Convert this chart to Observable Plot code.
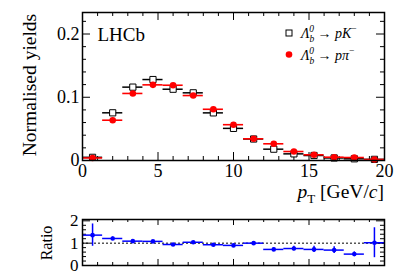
<!DOCTYPE html>
<html><head><meta charset="utf-8">
<script src="https://cdn.jsdelivr.net/npm/d3@7"></script>
<script src="https://cdn.jsdelivr.net/npm/@observablehq/plot@0.6"></script>
<style>
body{margin:0;background:#fff;}
#c{position:relative;width:407px;height:276px;overflow:hidden;font-family:"Liberation Serif",serif;}
#c svg{position:absolute;left:0;}
</style></head><body><div id="c"></div><script>
// bins in pT [GeV/c]
const binLo = [0, 1.333, 2.667, 4, 5.333, 6.667, 8, 9.333, 10.667, 12, 13.333, 14.667, 16, 17.333, 18.667];
const binHi = [1.333, 2.667, 4, 5.333, 6.667, 8, 9.333, 10.667, 12, 13.333, 14.667, 16, 17.333, 18.667, 20];
// normalised yields
const yieldPK  = [0.005, 0.0754, 0.116, 0.128, 0.1127, 0.107, 0.0753, 0.0508, 0.034, 0.0179, 0.0105, 0.0079, 0.0040, 0.0027, 0.0018];
const yieldPPi = [0.004, 0.0637, 0.106, 0.1196, 0.119, 0.1027, 0.081, 0.0566, 0.0343, 0.0264, 0.0142, 0.0090, 0.0052, 0.0047, 0.0016];
// ratio and its uncertainty
const ratio    = [1.36, 1.21, 1.09, 1.08, 0.94, 1.04, 0.93, 0.90, 1.00, 0.72, 0.76, 0.72, 0.69, 0.51, 1.02];
const ratioErr = [0.5, 0.07, 0.04, 0.04, 0.04, 0.04, 0.04, 0.04, 0.05, 0.06, 0.1, 0.14, 0.15, 0.1, 0.67];
// axis ticks
const xMajor = [0, 5, 10, 15, 20];
const yMajor = [0, 0.1, 0.2];
const rMajor = [0, 1, 2];

const rows = binLo.map((lo, i) => ({lo, hi: binHi[i], c: (lo + binHi[i]) / 2, pk: yieldPK[i], ppi: yieldPPi[i], r: ratio[i], e: ratioErr[i]}));

const FONT = "Liberation Serif";
const xMinor = d3.range(0, 20.001, 1);
const yMinor = d3.range(0, 0.2301, 0.02);
const rMinor = d3.range(0, 2.001, 0.2);
const isMajY = d => Math.abs(d * 10 - Math.round(d * 10)) < 1e-6;
const isMajR = d => rMajor.some(m => Math.abs(m - d) < 1e-6);

const Y1 = 0.234, X1 = 20, R1 = 2.06;
const main = Plot.plot({
  width: 407, height: 200, marginLeft: 82, marginRight: 23, marginTop: 12, marginBottom: 40,
  x: {domain: [0, X1]}, y: {domain: [0, Y1]},
  style: {fontFamily: FONT, fontSize: "18px", color: "black", background: "transparent", overflow: "visible"},
  marks: [
    Plot.ruleX(xMinor, {x: d => d, y1: 0, y2: d => xMajor.includes(d) ? 0.0126 : 0.0063, stroke: "black", strokeWidth: 1}),
    Plot.ruleX(xMinor, {x: d => d, y1: Y1, y2: d => Y1 - (xMajor.includes(d) ? 0.0126 : 0.0063), stroke: "black", strokeWidth: 1}),
    Plot.ruleY(yMinor, {y: d => d, x1: 0, x2: d => isMajY(d) ? 0.53 : 0.265, stroke: "black", strokeWidth: 1}),
    Plot.ruleY(yMinor, {y: d => d, x1: X1, x2: d => X1 - (isMajY(d) ? 0.53 : 0.265), stroke: "black", strokeWidth: 1}),
    Plot.axisX({ticks: xMajor, tickSize: 0, tickPadding: 4, label: null}),
    Plot.axisY({ticks: yMajor, tickSize: 0, tickPadding: 3, label: null, tickFormat: d => d === 0 ? "0" : d3.format(".1f")(d)}),
    Plot.ruleY(rows, {y: "pk", x1: "lo", x2: "hi", stroke: "black", strokeWidth: 1.5}),
    Plot.dot(rows, {x: "c", y: "pk", symbol: "square", r: 3.5, fill: "white", stroke: "black", strokeWidth: 1}),
    Plot.ruleY(rows, {y: "ppi", x1: "lo", x2: "hi", stroke: "red", strokeWidth: 1.6}),
    Plot.dot(rows, {x: "c", y: "ppi", r: 3.3, fill: "red"}),
    Plot.frame({stroke: "black", strokeWidth: 1.5}),
    Plot.text(["LHCb"], {frameAnchor: "top-left", dx: 15, dy: 15, textAnchor: "start", lineAnchor: "top", fontSize: 19})
  ]
});
main.style.top = "0px";

const ratioPlot = Plot.plot({
  width: 407, height: 76, marginLeft: 82, marginRight: 23, marginTop: 19, marginBottom: 11,
  x: {domain: [0, X1], axis: null}, y: {domain: [0, R1]},
  style: {fontFamily: FONT, fontSize: "17px", color: "black", background: "transparent", overflow: "visible"},
  marks: [
    Plot.ruleX(xMinor, {x: d => d, y1: 0, y2: d => xMajor.includes(d) ? 0.27 : 0.135, stroke: "black", strokeWidth: 1}),
    Plot.ruleX(xMinor, {x: d => d, y1: R1, y2: d => R1 - (xMajor.includes(d) ? 0.27 : 0.135), stroke: "black", strokeWidth: 1}),
    Plot.ruleY(rMinor, {y: d => d, x1: 0, x2: d => isMajR(d) ? 0.53 : 0.265, stroke: "black", strokeWidth: 1}),
    Plot.ruleY(rMinor, {y: d => d, x1: X1, x2: d => X1 - (isMajR(d) ? 0.53 : 0.265), stroke: "black", strokeWidth: 1}),
    Plot.axisY({ticks: rMajor, tickSize: 0, tickPadding: 4, label: null, tickFormat: d => String(d)}),
    Plot.ruleY([1], {stroke: "black", strokeWidth: 1, strokeDasharray: "2,2"}),
    Plot.ruleY(rows, {y: "r", x1: "lo", x2: "hi", stroke: "blue", strokeWidth: 1.5}),
    Plot.ruleX(rows, {x: "c", y1: d => d.r - d.e, y2: d => d.r + d.e, stroke: "blue", strokeWidth: 1.5}),
    Plot.dot(rows, {x: "c", y: "r", r: 2.3, fill: "blue"}),
    Plot.frame({stroke: "black", strokeWidth: 1.5})
  ]
});
ratioPlot.style.top = "200px";

const c = document.getElementById("c");
c.appendChild(main);
c.appendChild(ratioPlot);

const svg = d3.select(main);
// y-axis titles
svg.append("text").attr("transform", "translate(36,85) rotate(-90)").attr("text-anchor", "middle")
  .attr("font-family", FONT).attr("font-size", 19.5).attr("fill", "black").text("Normalised yields");
d3.select(ratioPlot).append("text").attr("transform", "translate(52,43) rotate(-90)").attr("text-anchor", "middle")
  .attr("font-family", FONT).attr("font-size", 16).attr("fill", "black").text("Ratio");

// x-axis title
const xt = svg.append("text").attr("x", 384).attr("y", 198).attr("text-anchor", "end")
  .attr("font-family", FONT).attr("font-size", 19.5).attr("fill", "black");
xt.append("tspan").attr("font-style", "italic").text("p");
xt.append("tspan").attr("font-size", 13).attr("dy", 5).text("T");
xt.append("tspan").attr("dy", -5).text(" [GeV/");
xt.append("tspan").attr("font-style", "italic").text("c");
xt.append("tspan").text("]");

// legend
const legend = [
  {label: "K", sym: "square"},
  {label: "π", sym: "circle"}
];
legend.forEach((L, i) => {
  const yb = 38 + i * 21.5;
  if (L.sym === "square") {
    svg.append("rect").attr("x", 286).attr("y", yb - 8).attr("width", 6).attr("height", 6)
      .attr("fill", "white").attr("stroke", "black").attr("stroke-width", 1);
  } else {
    svg.append("circle").attr("cx", 289).attr("cy", yb - 5).attr("r", 3.3).attr("fill", "red");
  }
  const t = svg.append("text").attr("x", 301).attr("y", yb).attr("text-anchor", "start").attr("font-family", FONT)
    .attr("font-size", 14).attr("fill", "black");
  t.append("tspan").attr("font-style", "italic").text("Λ");
  t.append("tspan").attr("font-style", "italic").attr("font-size", 9.5).attr("dy", 4).text("b");
  t.append("tspan").attr("font-style", "italic").attr("font-size", 9.5).attr("dx", -5).attr("dy", -10).text("0");
  t.append("tspan").attr("dy", 6).text(" → ");
  t.append("tspan").attr("font-style", "italic").text("p" + L.label);
  t.append("tspan").attr("font-size", 9.5).attr("dy", -6).text("−");
});
</script></body></html>
